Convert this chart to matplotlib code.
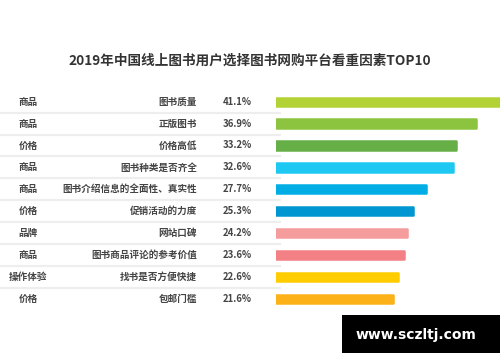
import matplotlib
matplotlib.use('Agg')
import matplotlib.pyplot as plt
from matplotlib.patches import Rectangle

plt.rcParams['font.family'] = ['Noto Sans CJK SC', 'DejaVu Sans']

title = '2019年中国线上图书用户选择图书网购平台看重因素TOP10'
groups = ['商品', '商品', '价格', '商品', '商品', '价格', '品牌', '商品', '操作体验', '价格']
factors = ['图书质量', '正版图书', '价格高低', '图书种类是否齐全',
           '图书介绍信息的全面性、真实性', '促销活动的力度', '网站口碑',
           '图书商品评论的参考价值', '找书是否方便快捷', '包邮门槛']
shares = [41.1, 36.9, 33.2, 32.6, 27.7, 25.3, 24.2, 23.6, 22.6, 21.6]
colors = ['#b2d235', '#8cc43f', '#66ae46', '#1fc8f2', '#00aee5',
          '#0096d1', '#f59c9c', '#f38084', '#ffcc00', '#fbb117']

fig = plt.figure(figsize=(5, 3.62), dpi=100)
ax = fig.add_axes([0.552, 0.1446, 0.448, 0.6047])
n = len(shares)
ys = list(range(n))

# thick same-colour edge with round joins gives the softly rounded bar ends
ax.barh(ys, shares, height=0.38, color=colors, edgecolor=colors,
        linewidth=1.8, joinstyle='round')
ax.set_xlim(0, max(shares) * 1.006)
ax.set_ylim(n - 0.5, -0.5)
ax.axis('off')

trf = matplotlib.transforms.blended_transform_factory(fig.transFigure, ax.transData)
txt = dict(fontsize=6.9, color='#444444', fontweight='bold', va='center')
for i in ys:
    ax.text(0.056, i, groups[i], transform=trf, ha='center', **txt)
    ax.text(0.394, i, factors[i], transform=trf, ha='right', **txt)
    ax.text(0.503, i, f'{shares[i]}%', transform=trf, ha='right', **txt)
for i in ys[:-1]:
    ax.plot([0, 0.56], [i + 0.5, i + 0.5], transform=trf, color='#eeeeee',
            lw=1.6, clip_on=False)

fig.text(0.5, 1 - 61 / 362, title, ha='center', va='center',
         fontsize=9.8, fontweight='bold', color='#333333')

fig.patches.append(Rectangle((342 / 500, 1 - 353 / 362), 158 / 500, 38 / 362,
                             transform=fig.transFigure, facecolor='black',
                             edgecolor='none'))
fig.text(416 / 500, 1 - 335 / 362, 'www.sczltj.com', ha='center', va='center',
         fontsize=10, fontweight='bold', color='white', family='DejaVu Sans')

fig.savefig('out.png', dpi=100)
